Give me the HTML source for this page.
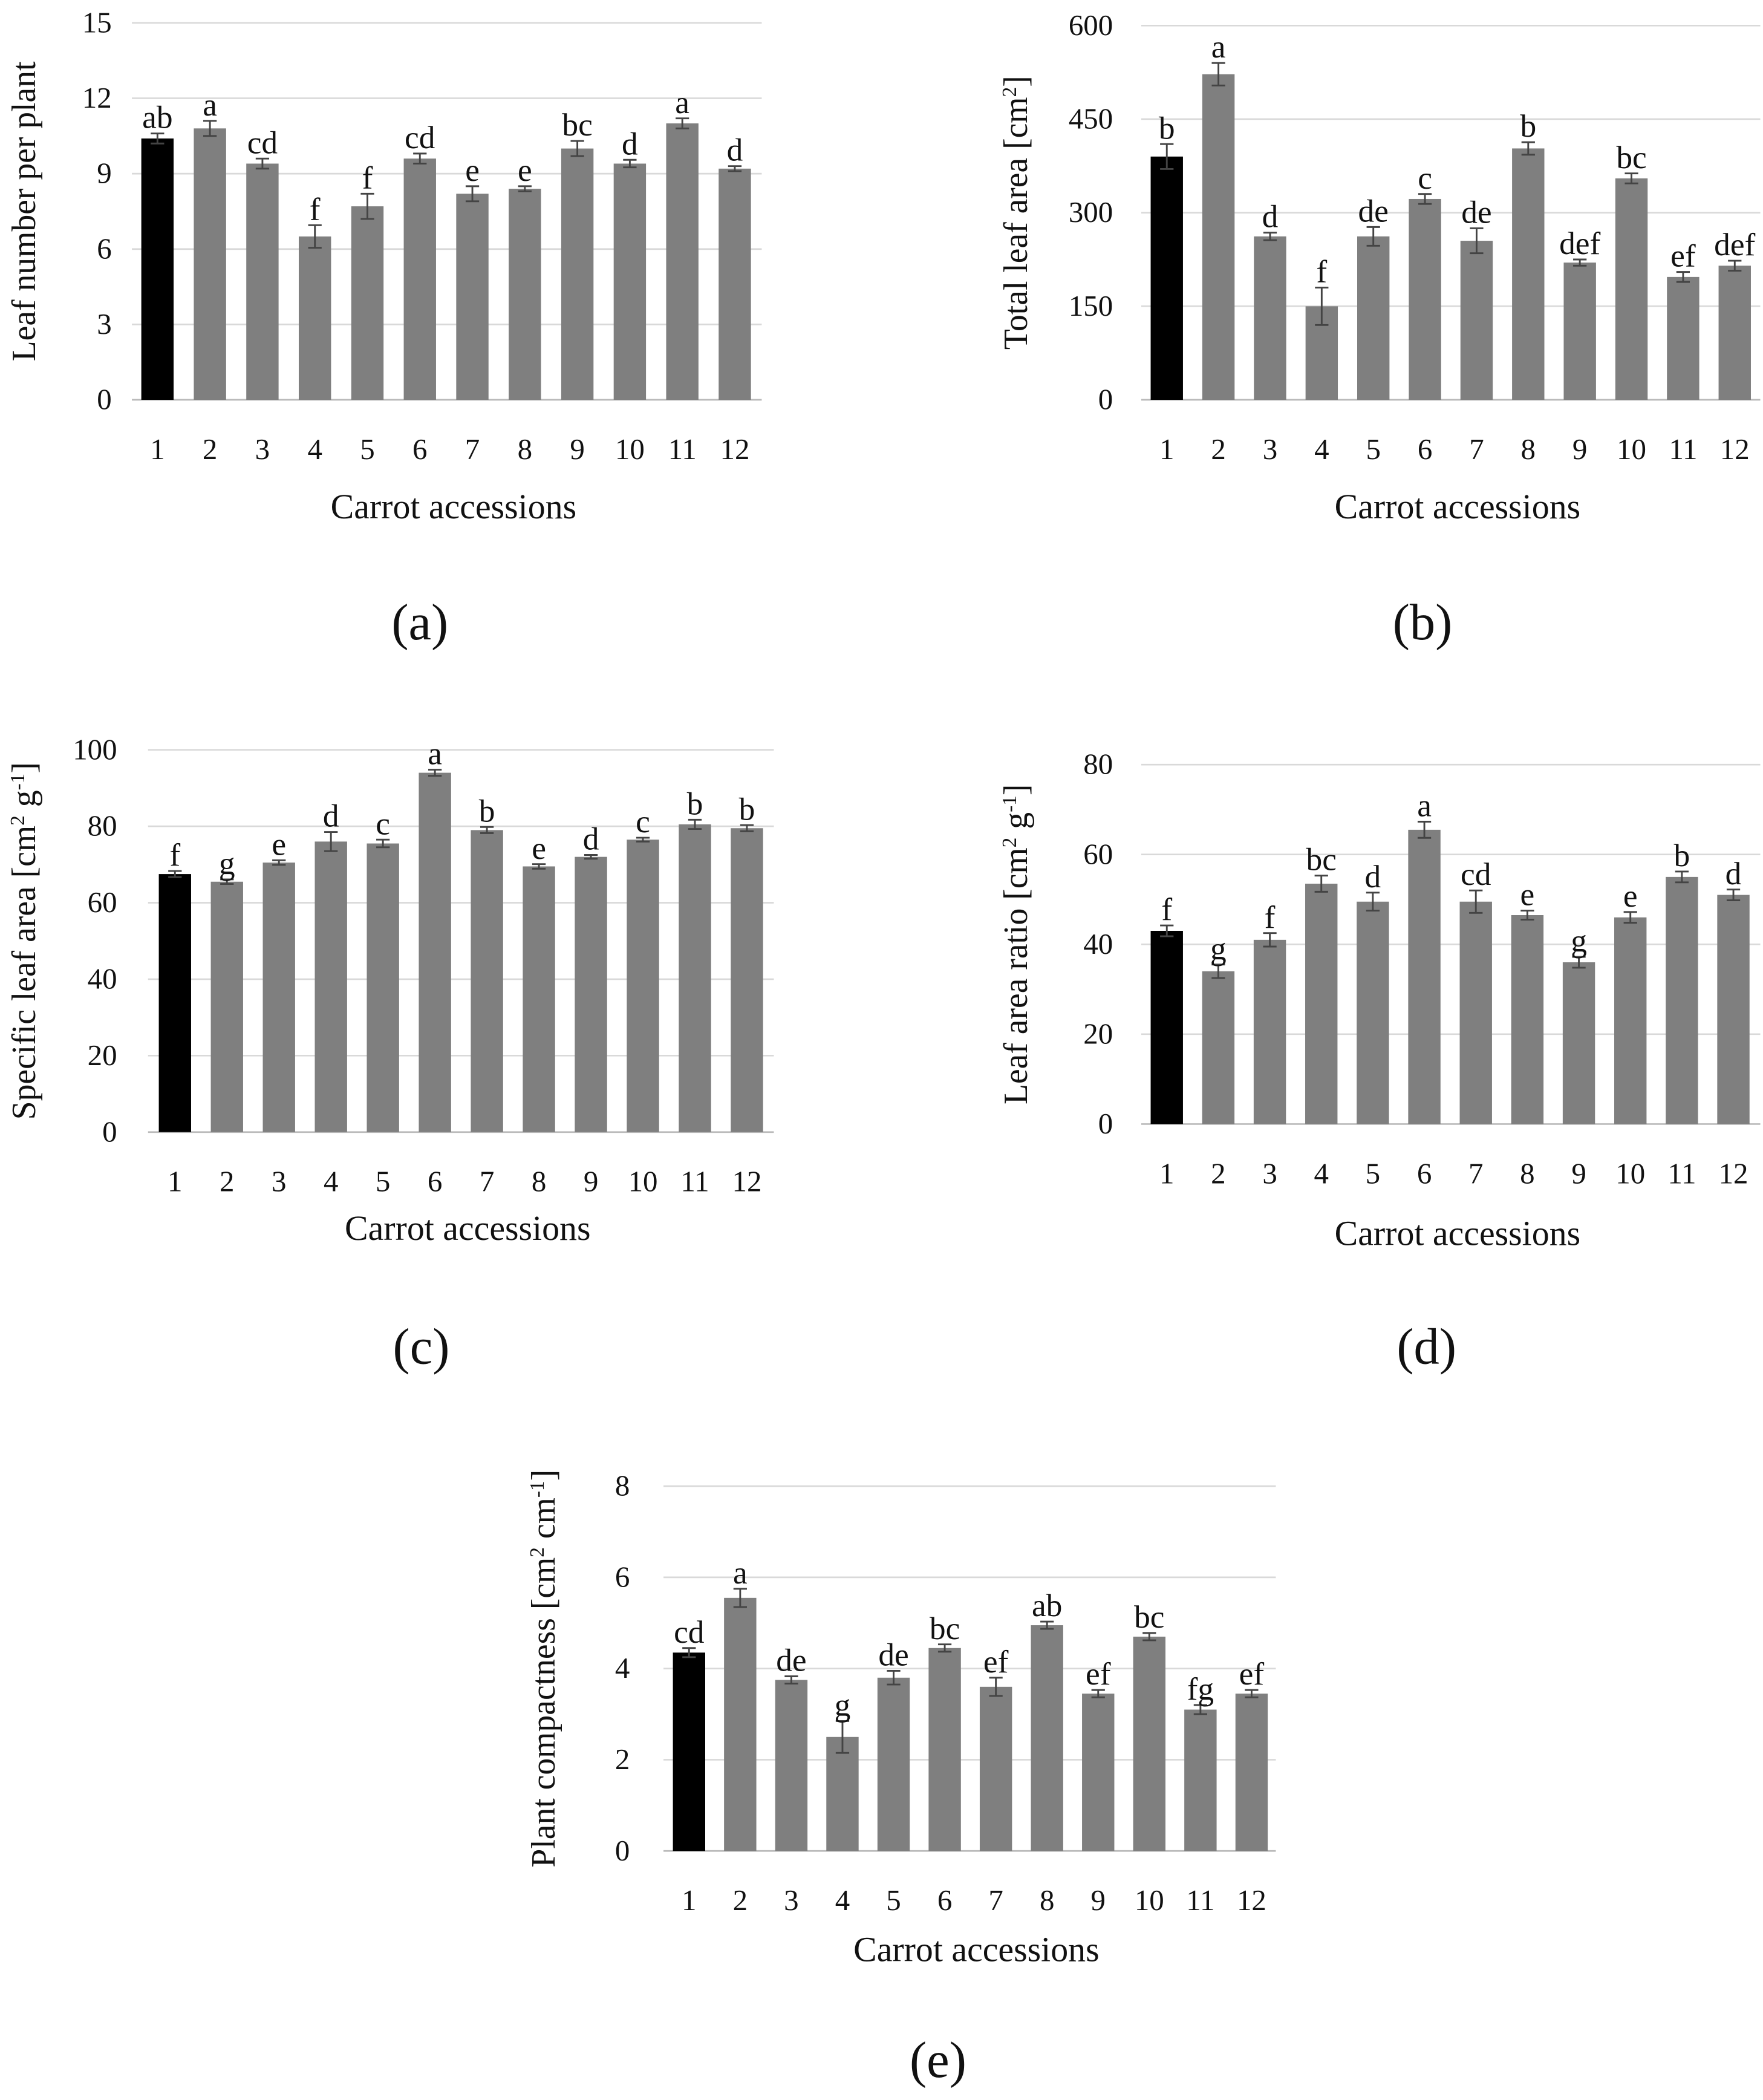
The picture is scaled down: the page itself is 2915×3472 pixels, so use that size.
<!DOCTYPE html>
<html><head><meta charset="utf-8">
<style>
html,body{margin:0;padding:0;background:#fff;}
svg{display:block;}
text{font-family:"Liberation Serif",serif;fill:#111;}
</style></head>
<body>
<svg id="root" width="2915" height="3472" viewBox="0 0 1310 1560" preserveAspectRatio="none" xmlns="http://www.w3.org/2000/svg"></svg>
<script>
const cats = ["1","2","3","4","5","6","7","8","9","10","11","12"];
const valsA = [10.4,10.8,9.4,6.5,7.7,9.6,8.2,8.4,10.0,9.4,11.0,9.2];
const errA = [0.2,0.3,0.2,0.45,0.5,0.2,0.3,0.1,0.3,0.15,0.2,0.1];
const lettersA = ["ab","a","cd","f","f","cd","e","e","bc","d","a","d"];
const ticksA = [0,3,6,9,12,15];
const valsB = [390,522,262,150,262,322,255,403,220,355,197,215];
const errB = [20,18,6,30,15,8,20,10,5,8,8,8];
const lettersB = ["b","a","d","f","de","c","de","b","def","bc","ef","def"];
const ticksB = [0,150,300,450,600];
const valsC = [67.5,65.5,70.5,76,75.5,94,79,69.5,72,76.5,80.5,79.5];
const errC = [0.8,0.6,0.6,2.5,1,0.8,0.8,0.6,0.5,0.5,1.2,0.8];
const lettersC = ["f","g","e","d","c","a","b","e","d","c","b","b"];
const ticksC = [0,20,40,60,80,100];
const valsD = [43,34,41,53.5,49.5,65.5,49.5,46.5,36,46,55,51];
const errD = [1.2,1.5,1.5,1.8,2,1.8,2.5,1,1.2,1.2,1.2,1.2];
const lettersD = ["f","g","f","bc","d","a","cd","e","g","e","b","d"];
const ticksD = [0,20,40,60,80];
const valsE = [4.35,5.55,3.75,2.5,3.8,4.45,3.6,4.95,3.45,4.7,3.1,3.45];
const errE = [0.1,0.2,0.08,0.35,0.15,0.08,0.2,0.08,0.08,0.08,0.1,0.08];
const lettersE = ["cd","a","de","g","de","bc","ef","ab","ef","bc","fg","ef"];
const ticksE = [0,2,4,6,8];

const NS="http://www.w3.org/2000/svg";
const root=document.getElementById('root');
function mk(tag,attrs,parent){const e=document.createElementNS(NS,tag);for(const k in attrs)e.setAttribute(k,attrs[k]);(parent||root).appendChild(e);return e;}

function chart(p){
  const g=mk('g',{});
  
  
  const ymax=p.ticks[p.ticks.length-1];
  const y=v=>p.y0-(v/ymax)*(p.y0-p.yTop);
  const step=(p.xLast-p.xFirst)/(cats.length-1);
  const x=i=>p.xFirst+i*step;
  p.ticks.forEach(t=>{
    const l=mk('line',{x1:p.gx0,x2:p.gx1,y1:y(t),y2:y(t),stroke:t===0?'#bbb':'#d9d9d9','stroke-width':1.2},g);
    
    
    const tt=mk('text',{x:p.tickX,y:y(t)+7,'text-anchor':'end','font-size':22},g);
    tt.textContent=t;
    
    
  });
  const bw=24;
  p.vals.forEach((v,i)=>{
    const cx=x(i);
    const r=mk('rect',{x:cx-bw/2,y:y(v),width:bw,height:p.y0-y(v),fill:i===0?'#000':'#7f7f7f'},g);
    
    
    const e1=y(v+p.err[i]),e2=y(v-p.err[i]);
    const eb=mk('path',{d:`M${cx},${e1}V${e2}M${cx-5},${e1}H${cx+5}M${cx-5},${e2}H${cx+5}`,stroke:'#444','stroke-width':1.3,fill:'none'},g);
    
    
    const lt=mk('text',{x:cx,y:e1-4,'text-anchor':'middle','font-size':24},g);
    lt.textContent=p.letters[i];
    
    
    const xt=mk('text',{x:cx,y:p.y0+44,'text-anchor':'middle','font-size':22},g);
    xt.textContent=cats[i];
    
    
  });
  const xl=mk('text',{x:(p.gx0+p.gx1)/2+5,y:p.xLabelY,'text-anchor':'middle','font-size':26},g);
  xl.textContent='Carrot accessions';
  
  
  const yl=mk('text',{x:0,y:0,'text-anchor':'middle','font-size':25,transform:`translate(${p.yLabelX},${(p.y0+p.yTop)/2}) rotate(-90)`},g);
  yl.innerHTML=p.ylabel;
  
  
  const pl=mk('text',{x:p.panelX,y:p.panelY,'text-anchor':'middle','font-size':38},g);
  pl.textContent=p.panel;
  
  
}
const sup=s=>`<tspan baseline-shift="super" font-size="15">${s}</tspan>`;
chart({name:'chart-a',vals:valsA,err:errA,letters:lettersA,ticks:ticksA,y0:297,yTop:17,xFirst:117,xLast:546,gx0:98,gx1:566,tickX:83,xLabelY:385,yLabelX:26,ylabel:'Leaf number per plant',panel:'(a)',panelX:312,panelY:475});
chart({name:'chart-b',vals:valsB,err:errB,letters:lettersB,ticks:ticksB,y0:297,yTop:19,xFirst:867,xLast:1289,gx0:848,gx1:1308,tickX:827,xLabelY:385,yLabelX:763,ylabel:'Total leaf area  [cm'+sup('2')+']',panel:'(b)',panelX:1057,panelY:475});
chart({name:'chart-c',vals:valsC,err:errC,letters:lettersC,ticks:ticksC,y0:841,yTop:557,xFirst:130,xLast:555,gx0:110,gx1:575,tickX:87,xLabelY:921,yLabelX:26,ylabel:'Specific leaf area [cm'+sup('2')+' g'+sup('-1')+']',panel:'(c)',panelX:313,panelY:1013});
chart({name:'chart-d',vals:valsD,err:errD,letters:lettersD,ticks:ticksD,y0:835,yTop:568,xFirst:867,xLast:1288,gx0:848,gx1:1308,tickX:827,xLabelY:925,yLabelX:763,ylabel:'Leaf area ratio  [cm'+sup('2')+' g'+sup('-1')+']',panel:'(d)',panelX:1060,panelY:1013});
chart({name:'chart-e',vals:valsE,err:errE,letters:lettersE,ticks:ticksE,y0:1375,yTop:1104,xFirst:512,xLast:930,gx0:493,gx1:948,tickX:468,xLabelY:1457,yLabelX:412,ylabel:'Plant compactness [cm'+sup('2')+' cm'+sup('-1')+']',panel:'(e)',panelX:697,panelY:1543});
</script>
</body></html>
